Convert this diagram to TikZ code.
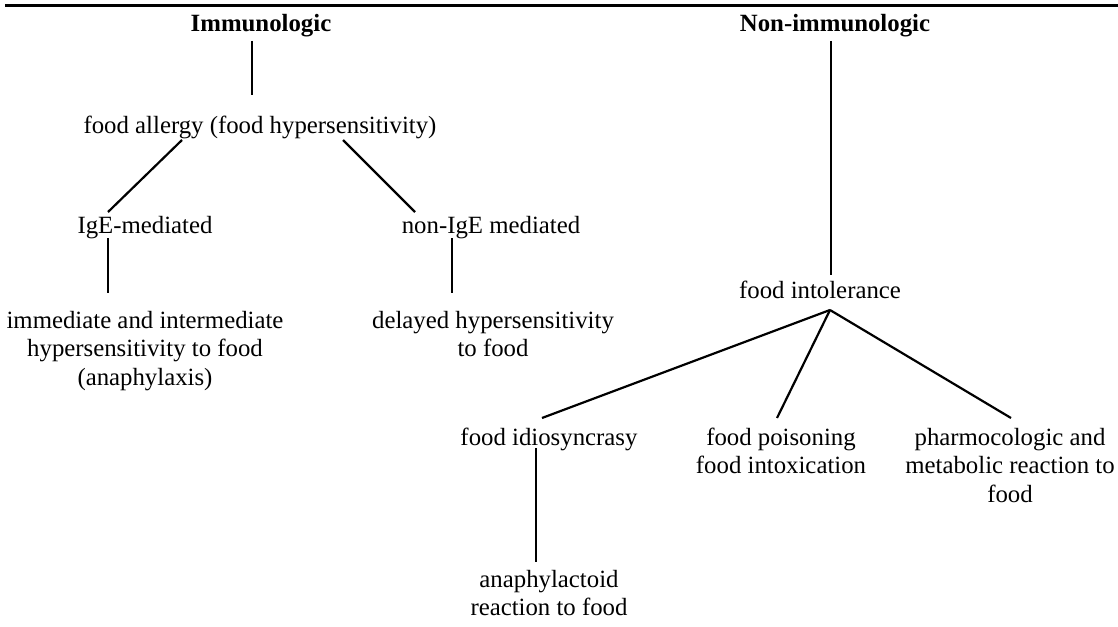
\documentclass[tikz,border=0pt]{standalone}
\usepackage{fontspec}
\setmainfont{Liberation Serif}
\newcommand{\ml}[1]{\begin{tabular}[t]{@{}c@{}}#1\end{tabular}}
\begin{document}
\begin{tikzpicture}[x=1pt,y=-1pt,
  txt/.style={inner sep=0pt, anchor=base, font=\fontsize{24.8}{28.5}\selectfont},
  head/.style={txt, font=\fontsize{24.8}{28.5}\selectfont\bfseries},
  conn/.style={line width=2.2pt},
  rule/.style={line width=3pt}]
\useasboundingbox (0,0) rectangle (1118,626);
% top rule
\coordinate (rl) at (5,6);
\coordinate (rr) at (1118,6);
\draw[rule] (rl) -- (rr);
% nodes
\node[head] (imm)  at (261,32)  {Immunologic};
\node[head] (non)  at (835,32)  {Non-immunologic};
\node[txt]  (fa)   at (260,133) {food allergy (food hypersensitivity)};
\node[txt]  (ige)  at (145,233) {IgE-mediated};
\node[txt]  (nige) at (491,233) {non-IgE mediated};
\node[txt]  (imf)  at (145,328) {\ml{immediate and intermediate\\hypersensitivity to food\\(anaphylaxis)}};
\node[txt]  (dhf)  at (493,328) {\ml{delayed hypersensitivity\\to food}};
\node[txt]  (fi)   at (820,298) {food intolerance};
\node[txt]  (fid)  at (549,445) {food idiosyncrasy};
\node[txt]  (fp)   at (781,445) {\ml{food poisoning\\food intoxication}};
\node[txt]  (ph)   at (1010,445) {\ml{pharmocologic and\\metabolic reaction to\\food}};
\node[txt]  (ana)  at (549,587) {\ml{anaphylactoid\\reaction to food}};
% connectors
\draw[conn] ([xshift=-9pt,yshift=-9pt]imm.base) -- ([xshift=-8pt,yshift=38pt]fa.base);
\draw[conn] ([xshift=-78pt,yshift=-7pt]fa.base) -- ([xshift=-37pt,yshift=21pt]ige.base);
\draw[conn] ([xshift=83pt,yshift=-7pt]fa.base) -- ([xshift=-76pt,yshift=21pt]nige.base);
\draw[conn] ([xshift=-37pt,yshift=-5pt]ige.base) -- ([xshift=-37pt,yshift=35pt]imf.base);
\draw[conn] ([xshift=-39pt,yshift=-5pt]nige.base) -- ([xshift=-41pt,yshift=35pt]dhf.base);
\draw[conn] ([xshift=-4pt,yshift=-9pt]non.base) -- ([xshift=11pt,yshift=23pt]fi.base);
\draw[conn] ([xshift=10pt,yshift=-12pt]fi.base) -- ([xshift=-7pt,yshift=27pt]fid.base);
\draw[conn] ([xshift=10pt,yshift=-12pt]fi.base) -- ([xshift=-4pt,yshift=27pt]fp.base);
\draw[conn] ([xshift=10pt,yshift=-12pt]fi.base) -- ([xshift=1pt,yshift=27pt]ph.base);
\draw[conn] ([xshift=-13pt,yshift=-3pt]fid.base) -- ([xshift=-13pt,yshift=25pt]ana.base);
\end{tikzpicture}
\end{document}
